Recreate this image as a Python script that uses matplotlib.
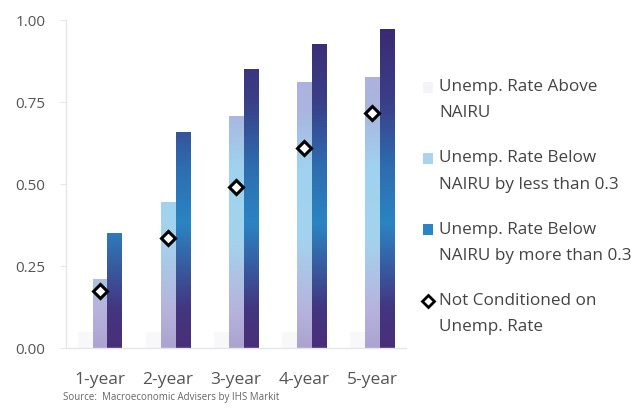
import numpy as np
import matplotlib
matplotlib.use('agg')

import matplotlib.pyplot as plt
from matplotlib.colors import LinearSegmentedColormap
from matplotlib.patches import Patch, Rectangle
from matplotlib.lines import Line2D
from matplotlib.legend_handler import HandlerPatch, HandlerLine2D

plt.rcParams['font.family'] = ['Open Sans', 'DejaVu Sans']

horizons = ['1-year', '2-year', '3-year', '4-year', '5-year']
above_nairu = [0.05, 0.05, 0.05, 0.05, 0.05]
below_less = [0.21, 0.446, 0.707, 0.812, 0.827]
below_more = [0.35, 0.66, 0.851, 0.926, 0.972]
unconditioned = [0.175, 0.337, 0.49, 0.611, 0.716]

labels = ['Unemp. Rate Above\nNAIRU',
          'Unemp. Rate Below\nNAIRU by less than 0.3',
          'Unemp. Rate Below\nNAIRU by more than 0.3',
          'Not Conditioned on\nUnemp. Rate']

# vertical colour ramps, in data units of the y axis
light_cmap = LinearSegmentedColormap.from_list('light', [
    (0.0, '#aca3d1'), (0.12, '#b6b4dd'), (0.33, '#a3d3ee'),
    (0.55, '#9fd2ee'), (0.72, '#aab6e0'), (1.0, '#b2a9da')])
dark_cmap = LinearSegmentedColormap.from_list('dark', [
    (0.0, '#4a2f79'), (0.12, '#433680'), (0.38, '#2b84c3'),
    (0.55, '#2e6db0'), (0.75, '#3a3f88'), (1.0, '#3b2870')])

# legend keys sit level with the first line of each two-line label
KEY_SHIFT = 9.2


def top_square(legend, orig_handle, xdescent, ydescent, width, height,
               fontsize):
    return Rectangle((-xdescent, -ydescent + KEY_SHIFT), width, height)


class TopMarker(HandlerLine2D):
    def create_artists(self, *args, **kwargs):
        arts = super().create_artists(*args, **kwargs)
        for a in arts:
            a.set_ydata(np.asarray(a.get_ydata()) + KEY_SHIFT)
        return arts


fig = plt.figure(figsize=(6.37, 4.11), dpi=100)
ax = fig.add_axes([0.1036, 0.153, 0.534, 0.798])

x = np.arange(len(horizons))
w = 0.22

ax.bar(x - w, above_nairu, w, color='#f8f8fb', zorder=2)
ramps = [(below_less, light_cmap, 0.0), (below_more, dark_cmap, w)]
for vals, cmap, off in ramps:
    bars = ax.bar(x + off, vals, w, color='none', zorder=2)
    for patch in bars:
        x0 = patch.get_x()
        grad = np.linspace(0, 1, 400).reshape(-1, 1)
        img = ax.imshow(grad, cmap=cmap, vmin=0, vmax=1, aspect='auto',
                        origin='lower', extent=[x0, x0 + w, 0, 1],
                        zorder=2, interpolation='bilinear')
        img.set_clip_path(patch)

ax.plot(x, unconditioned, linestyle='none', marker='D', markersize=7,
        markerfacecolor='white', markeredgecolor='black',
        markeredgewidth=2.2, zorder=4)

ax.set_xlim(-0.5, len(horizons) - 0.5)
ax.set_ylim(0, 1.0)
ax.set_yticks([0, 0.25, 0.5, 0.75, 1.0])
ax.set_yticklabels(['0.00', '0.25', '0.50', '0.75', '1.00'])
ax.set_xticks(x)
ax.set_xticklabels(horizons)

for side in ['top', 'right']:
    ax.spines[side].set_visible(False)
for side in ['left', 'bottom']:
    ax.spines[side].set_color('#e6e6e6')
    ax.spines[side].set_linewidth(1.0)
ax.tick_params(axis='y', length=4, color='#e6e6e6', pad=11,
               labelsize=11, labelcolor='#555555')
ax.tick_params(axis='x', length=0, pad=17, labelsize=12.5,
               labelcolor='#555555')

handles = [Patch(facecolor='#f4f4f8', edgecolor='none'),
           Patch(facecolor='#a9d3ee', edgecolor='none'),
           Patch(facecolor='#2b84c3', edgecolor='none'),
           Line2D([], [], linestyle='none', marker='D', markersize=6,
                  markerfacecolor='white', markeredgecolor='black',
                  markeredgewidth=2)]
leg = fig.legend(handles, labels, loc='upper left',
                 bbox_to_anchor=(0.64, 0.845), frameon=False,
                 fontsize=12.3, labelcolor='#444444', handlelength=0.6,
                 handleheight=0.6, handletextpad=0.35, labelspacing=1.7,
                 alignment='left',
                 handler_map={Patch: HandlerPatch(patch_func=top_square),
                              Line2D: TopMarker()})
for t in leg.get_texts():
    t.set_linespacing(1.85)

fig.text(0.099, 0.026, 'Source:  Macroeconomic Advisers by IHS Markit',
         fontsize=7, color='#666666')

fig.savefig('out.png', dpi=100)
